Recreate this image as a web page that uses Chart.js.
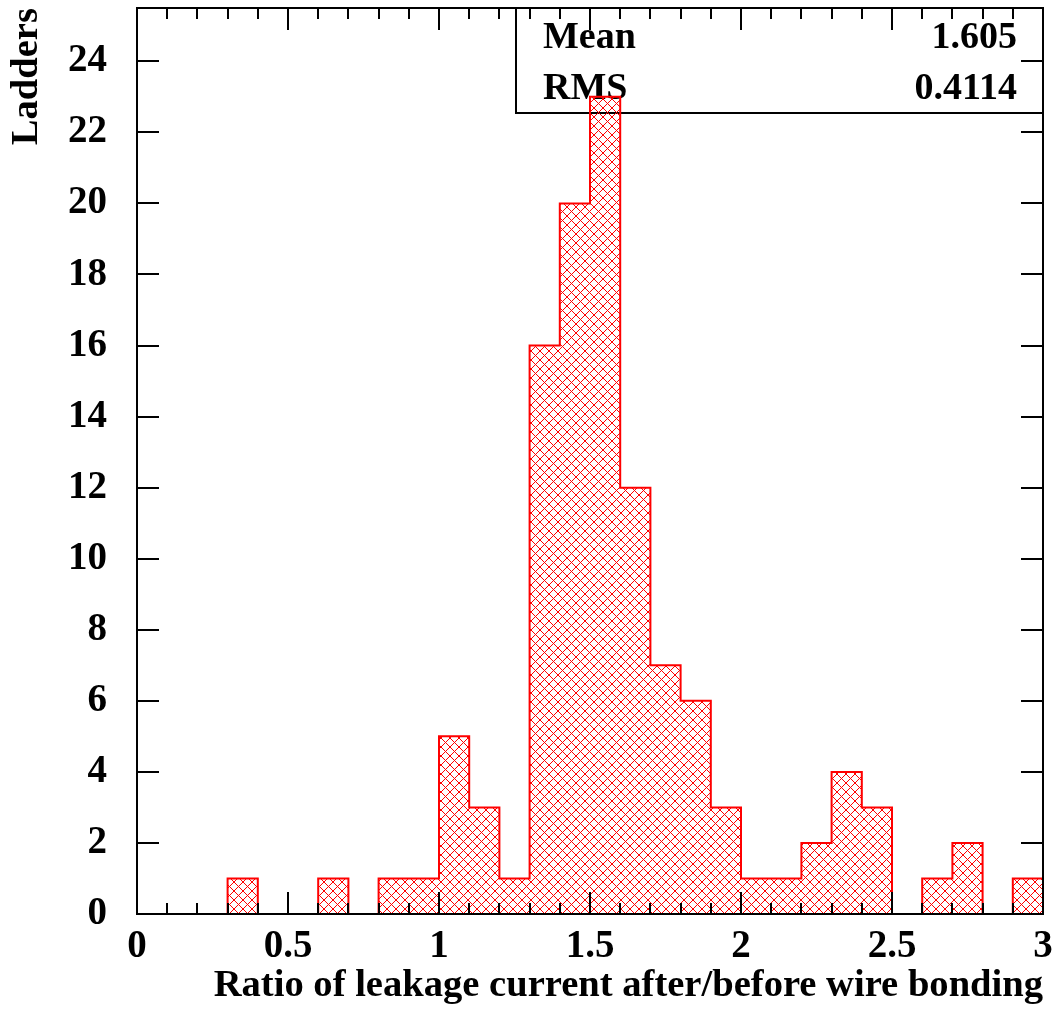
<!DOCTYPE html>
<html>
<head>
<meta charset="utf-8">
<title>Ladders</title>
<script src="https://cdn.jsdelivr.net/npm/chart.js@4.4.1/dist/chart.umd.min.js"></script>
<style>
  html, body { margin: 0; padding: 0; background: #fff; }
  canvas { display: block; }
</style>
</head>
<body>
<canvas id="histo" width="1060" height="1015"></canvas>
<script>
// lower edge of each 0.1-wide bin and number of ladders in it
const binLowEdges = [0.0, 0.1, 0.2, 0.3, 0.4, 0.5, 0.6, 0.7, 0.8, 0.9,
                     1.0, 1.1, 1.2, 1.3, 1.4, 1.5, 1.6, 1.7, 1.8, 1.9,
                     2.0, 2.1, 2.2, 2.3, 2.4, 2.5, 2.6, 2.7, 2.8, 2.9];
const ladderCounts = [0, 0, 0, 1, 0, 0, 1, 0, 1, 1,
                      5, 3, 1, 16, 20, 23, 12, 7, 6, 3,
                      1, 1, 2, 4, 3, 0, 1, 2, 0, 1];
const binWidth = 0.1;

// stats box
const statNames = ['Mean', 'RMS'];
const statValues = ['1.605', '0.4114'];

const serif = "'Liberation Serif', 'Times New Roman', serif";
const fontBold = { family: serif, size: 39, weight: 'bold', lineHeight: 1.2 };
const titleFont = { family: serif, size: 38.6, weight: 'bold', lineHeight: 1.2 };

const canvas = document.getElementById('histo');
const ctx = canvas.getContext('2d');

// red cross-hatch fill
function crossHatch(color) {
    const s = 9;
    const tile = document.createElement('canvas');
    tile.width = s;
    tile.height = s;
    const g = tile.getContext('2d');
    g.strokeStyle = color;
    g.lineWidth = 1;
    g.beginPath();
    g.moveTo(0, 0); g.lineTo(s, s);
    g.moveTo(s, 0); g.lineTo(0, s);
    g.stroke();
    return ctx.createPattern(tile, 'repeat');
}

const barPoints = binLowEdges.map((lo, i) => ({ x: lo + binWidth / 2, y: ladderCounts[i] }));
const stepPoints = binLowEdges.map((lo, i) => ({ x: lo, y: ladderCounts[i] }));
stepPoints.push({ x: binLowEdges[binLowEdges.length - 1] + binWidth, y: 0 });

// stats box under the histogram, frame and inner ticks on top
const frameAndStats = {
    id: 'frameAndStats',
    beforeDatasetsDraw(chart) {
        const { ctx, chartArea: a } = chart;
        const boxLeft = a.right - 527;
        const boxBottom = a.top + 105;
        ctx.save();
        ctx.strokeStyle = '#000';
        ctx.lineWidth = 2;
        ctx.beginPath();
        ctx.moveTo(boxLeft, a.top);
        ctx.lineTo(boxLeft, boxBottom);
        ctx.lineTo(a.right, boxBottom);
        ctx.stroke();
        ctx.fillStyle = '#000';
        ctx.font = `bold 38px ${serif}`;
        ctx.textBaseline = 'alphabetic';
        statNames.forEach((name, i) => {
            const base = a.top + 40 + i * 51;
            ctx.textAlign = 'left';
            ctx.fillText(name, boxLeft + 27, base);
            ctx.textAlign = 'right';
            ctx.fillText(statValues[i], a.right - 26, base);
        });
        ctx.restore();
    },
    afterDatasetsDraw(chart) {
        const { ctx, chartArea: a, scales: { x, y } } = chart;
        const major = 22, minor = 11;
        ctx.save();
        ctx.strokeStyle = '#000';
        ctx.lineWidth = 2;
        ctx.beginPath();
        const majorX = x.ticks.map(t => t.value);
        const edges = binLowEdges.concat([binLowEdges[binLowEdges.length - 1] + binWidth]);
        edges.forEach(v => {
            const isMajor = majorX.some(m => Math.abs(m - v) < 1e-6);
            const len = isMajor ? major : minor;
            const px = Math.round(x.getPixelForValue(v));
            ctx.moveTo(px, a.bottom); ctx.lineTo(px, a.bottom - len);
            ctx.moveTo(px, a.top); ctx.lineTo(px, a.top + len);
        });
        y.ticks.forEach(t => {
            const py = Math.round(y.getPixelForValue(t.value));
            ctx.moveTo(a.left, py); ctx.lineTo(a.left + major, py);
            ctx.moveTo(a.right, py); ctx.lineTo(a.right - major, py);
        });
        ctx.stroke();
        ctx.strokeRect(a.left, a.top, a.right - a.left, a.bottom - a.top);
        ctx.restore();
    }
};

new Chart(ctx, {
    type: 'bar',
    data: {
        datasets: [{
            type: 'line',
            label: 'outline',
            data: stepPoints,
            stepped: 'before',
            borderColor: '#ff0000',
            borderWidth: 2,
            pointRadius: 0,
            fill: false,
            order: 0
        }, {
            type: 'bar',
            label: 'Ladders',
            data: barPoints,
            backgroundColor: crossHatch('#ff0000'),
            borderWidth: 0,
            barPercentage: 1,
            categoryPercentage: 1,
            order: 1
        }]
    },
    options: {
        responsive: false,
        animation: false,
        layout: { padding: { top: 8, right: 17, bottom: 0, left: 0 } },
        plugins: {
            legend: { display: false },
            tooltip: { enabled: false }
        },
        scales: {
            x: {
                type: 'linear',
                min: 0,
                max: 3,
                offset: false,
                grid: { display: false, drawTicks: false },
                border: { display: false },
                ticks: {
                    stepSize: 0.5,
                    autoSkip: false,
                    maxRotation: 0,
                    padding: 10,
                    color: '#000',
                    font: fontBold,
                    callback: v => String(v)
                },
                title: {
                    display: true,
                    text: 'Ratio of leakage current after/before wire bonding',
                    align: 'end',
                    color: '#000',
                    font: titleFont,
                    padding: { top: 0, bottom: 6 }
                },
                afterFit(scale) {
                    scale.height = 101;
                    scale.paddingLeft = 0;
                    scale.paddingRight = 0;
                }
            },
            y: {
                min: 0,
                max: 25.5,
                grid: { display: false, drawTicks: false },
                border: { display: false },
                ticks: {
                    stepSize: 2,
                    includeBounds: false,
                    padding: 30,
                    color: '#000',
                    font: fontBold,
                    callback: v => String(v)
                },
                title: {
                    display: true,
                    text: 'Ladders',
                    align: 'end',
                    color: '#000',
                    font: titleFont,
                    padding: { top: 4, bottom: 0 }
                },
                afterFit(scale) {
                    scale.width = 137;
                    scale.paddingTop = 0;
                    scale.paddingBottom = 0;
                }
            }
        }
    },
    plugins: [frameAndStats]
});
</script>
</body>
</html>
